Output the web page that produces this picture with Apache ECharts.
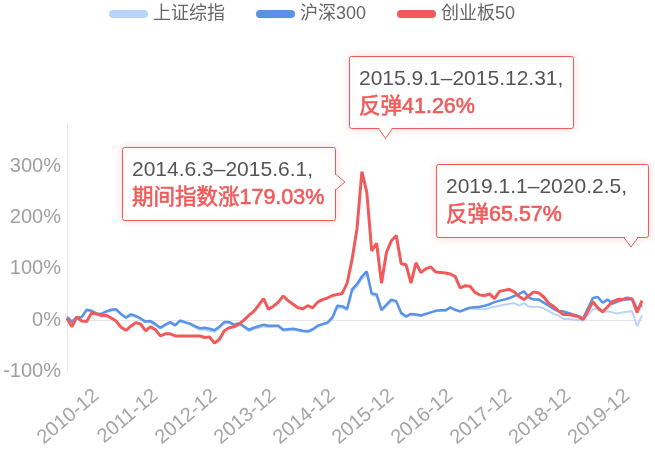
<!DOCTYPE html>
<html><head><meta charset="utf-8">
<script src="https://cdn.jsdelivr.net/npm/echarts@6/dist/echarts.min.js"></script>
<style>html,body{margin:0;padding:0;background:#fff}#c{width:655px;height:450px}</style>
</head><body><div id="c"></div>
<script>
// ---- data ----
const months = [
 '2010-06','2010-07','2010-08','2010-09','2010-10','2010-11','2010-12',
 '2011-01','2011-02','2011-03','2011-04','2011-05','2011-06','2011-07','2011-08','2011-09','2011-10','2011-11','2011-12',
 '2012-01','2012-02','2012-03','2012-04','2012-05','2012-06','2012-07','2012-08','2012-09','2012-10','2012-11','2012-12',
 '2013-01','2013-02','2013-03','2013-04','2013-05','2013-06','2013-07','2013-08','2013-09','2013-10','2013-11','2013-12',
 '2014-01','2014-02','2014-03','2014-04','2014-05','2014-06','2014-07','2014-08','2014-09','2014-10','2014-11','2014-12',
 '2015-01','2015-02','2015-03','2015-04','2015-05','2015-06','2015-07','2015-08','2015-09','2015-10','2015-11','2015-12',
 '2016-01','2016-02','2016-03','2016-04','2016-05','2016-06','2016-07','2016-08','2016-09','2016-10','2016-11','2016-12',
 '2017-01','2017-02','2017-03','2017-04','2017-05','2017-06','2017-07','2017-08','2017-09','2017-10','2017-11','2017-12',
 '2018-01','2018-02','2018-03','2018-04','2018-05','2018-06','2018-07','2018-08','2018-09','2018-10','2018-11','2018-12',
 '2019-01','2019-02','2019-03','2019-04','2019-05','2019-06','2019-07','2019-08','2019-09','2019-10','2019-11','2019-12',
 '2020-01','2020-02','2020-03'
];
const seriesNames = ['上证综指', '沪深300', '创业板50'];
// cumulative change, %
const szzs = [
 5,-4,4,5,18,16,11,10,15,18,
 19,10,3,9,6,1,-5,-4,-10,-17,
 -11,-6,-12,-3,-6,-9,-14,-19,-19,-21,
 -23,-16,-7,-6,-11,-8,-15,-22,-18,-15,
 -12,-14,-13,-13,-21,-20,-19,-21,-23,-24,
 -20,-13,-10,-7,2,24,24,19,55,66,
 80,90,50,46,18,27,37,35,12,5,
 11,10,8,11,14,17,18,18,24,19,
 16,19,23,22,21,21,24,26,28,30,
 32,33,28,33,26,26,26,23,18,12,
 9,2,2,1,0,-1,9,21,21,15,
 17,15,13,15,16,17,-12,9
];
const hs300 = [
 6,-3,5,6,20,18,13,12,17,20,
 21,12,5,11,8,3,-3,-2,-8,-15,
 -9,-4,-10,-1,-4,-7,-12,-16,-15,-17,
 -20,-13,-4,-4,-9,-6,-12,-19,-15,-12,
 -9,-11,-11,-11,-19,-18,-17,-19,-21,-22,
 -18,-11,-8,-5,5,28,27,22,60,70,
 85,95,52,50,20,30,40,37,14,7,
 12,11,9,12,15,18,19,19,25,20,
 17,21,24,25,26,28,31,35,38,40,
 43,47,51,56,44,40,40,34,28,22,
 17,17,14,11,8,3,23,43,45,34,
 40,32,36,39,40,41,22,30
];
const cyb50 = [
 3,-13,6,-2,-3,14,12,9,9,4,
 -2,-14,-20,-12,-5,-8,-21,-13,-19,-31,
 -27,-27,-31,-31,-31,-31,-31,-31,-34,-33,
 -45,-38,-21,-15,-13,-8,0,9,17,29,
 42,21,27,35,47,38,31,24,22,28,
 24,35,40,43,48,50,52,72,118,178,
 290,250,135,150,72,132,155,165,110,108,
 72,112,93,100,104,94,93,92,90,85,
 63,67,66,54,49,48,51,42,56,58,
 60,55,46,40,48,55,53,45,33,27,
 18,11,11,9,7,1,17,36,24,16,
 26,36,40,40,43,41,15,38
];
const calloutLine1 = ['2014.6.3–2015.6.1,', '2015.9.1–2015.12.31,', '2019.1.1–2020.2.5,'];
const calloutLine2 = ['期间指数涨179.03%', '反弹41.26%', '反弹65.57%'];

// ---- styles / layout ----
const RED = '#f05a5a', BLUE = '#5a92e8', LIGHT = '#b8d4fc';
const FONT = '"Liberation Sans", "Noto Sans CJK SC", sans-serif';

const boxes = [
  {x:122, y:147, w:213, h:73, ptr:'right', px:345, py:182},
  {x:349, y:56,  w:224, h:72, ptr:'bottom', px:385.5, py:138.5},
  {x:436, y:164, w:212, h:73, ptr:'bottom', px:631, py:247}
];

function callout(b, l1, l2) {
  let pts, cover;
  if (b.ptr === 'right') {
    const ex = b.x + b.w + 0.5;
    pts = [[ex, b.py - 8], [b.px, b.py], [ex, b.py + 8]];
    cover = {x1: ex, y1: b.py - 7, x2: ex, y2: b.py + 7};
  } else {
    const ey = b.y + b.h + 0.5;
    pts = [[b.px - 7, ey], [b.px, b.py], [b.px + 7, ey]];
    cover = {x1: b.px - 6, y1: ey, x2: b.px + 6, y2: ey};
  }
  return {
    type: 'group',
    children: [
      {type:'rect', z:10, shape:{x:b.x + 0.5, y:b.y + 0.5, width:b.w, height:b.h, r:2},
       style:{fill:'#fff', stroke:RED, lineWidth:1, shadowBlur:8, shadowColor:'rgba(240,90,90,0.22)'}},
      {type:'polygon', z:11, shape:{points: pts}, style:{fill:'#fff', stroke:RED, lineWidth:1}},
      {type:'line', z:12, shape: cover, style:{stroke:'#fff', lineWidth:2}},
      {type:'text', z:13, x: b.x + 10, y: b.y + 9,
       style:{text: '{a|' + l1 + '}\n{b|' + l2 + '}', verticalAlign:'top',
         rich:{
           a:{fontSize:21, lineHeight:28, fill:'#555', fontFamily:FONT},
           b:{fontSize:21.5, lineHeight:28, fill:RED, fontFamily:FONT,
              stroke:RED, lineWidth:0.6}
         }}}
    ]
  };
}

const chart = echarts.init(document.getElementById('c'));
chart.setOption({
  animation: false,
  backgroundColor: '#fff',
  legend: {
    top: 0, left: 104, itemGap: 31, itemWidth: 39, itemHeight: 8,
    icon: 'path://M4,0 H36 A4,4 0 0 1 36,8 H4 A4,4 0 0 1 4,0 Z',
    textStyle: {fontSize: 18, color: '#666', fontFamily: FONT},
    data: seriesNames
  },
  grid: {left: 67, right: 13, top: 123, bottom: 75},
  xAxis: {
    type: 'category', data: months, boundaryGap: false,
    axisLine: {lineStyle: {color: '#e6e6e6'}},
    axisTick: {show: false},
    axisLabel: {
      interval: (i, v) => v.endsWith('-12'),
      rotate: 40, margin: 22, fontSize: 20, color: '#a5a5a5', fontFamily: FONT
    },
    splitLine: {show: false}
  },
  yAxis: {
    type: 'value', min: -100, max: 385, interval: 100,
    axisLine: {show: true, lineStyle: {color: '#e6e6e6'}},
    axisTick: {show: false},
    splitLine: {show: false},
    axisLabel: {formatter: '{value}%', fontSize: 20, color: '#a0a0a0', margin: 6,
      fontFamily: FONT, showMaxLabel: false}
  },
  series: [
    {name: seriesNames[0], type: 'line', data: szzs, showSymbol: false, symbol: 'none',
     itemStyle: {color: LIGHT}, lineStyle: {color: LIGHT, width: 2}},
    {name: seriesNames[1], type: 'line', data: hs300, showSymbol: false, symbol: 'none',
     itemStyle: {color: BLUE}, lineStyle: {color: BLUE, width: 2.5}},
    {name: seriesNames[2], type: 'line', data: cyb50, showSymbol: false, symbol: 'none',
     itemStyle: {color: RED}, lineStyle: {color: RED, width: 3}}
  ],
  graphic: boxes.map((b, i) => callout(b, calloutLine1[i], calloutLine2[i]))
});
</script>
</body></html>
